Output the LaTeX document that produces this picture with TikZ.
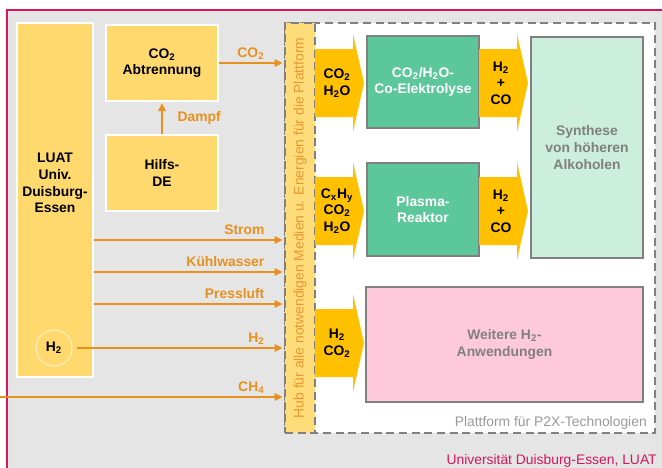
\documentclass[tikz,border=0pt]{standalone}
\usepackage{fontspec}
\setmainfont{Liberation Sans}
\usepackage{tikz}
\usetikzlibrary{arrows.meta, positioning, calc}
\definecolor{uderot}{HTML}{D2175C}
\definecolor{framegray}{HTML}{E5E5E5}
\definecolor{lightyellow}{HTML}{FFD96E}
\definecolor{hubyellow}{HTML}{FFDC7A}
\definecolor{deepyellow}{HTML}{FFC000}
\definecolor{floworange}{HTML}{E8901C}
\definecolor{hubtext}{HTML}{E99830}
\definecolor{reactgreen}{HTML}{5CC79B}
\definecolor{mintsoft}{HTML}{CCEEDD}
\definecolor{rosesoft}{HTML}{FFC9DC}
\definecolor{bordergray}{HTML}{808080}
\definecolor{notegray}{HTML}{999999}
\tikzset{
  bf/.style={font=\bfseries\fontsize{10.4}{12.5}\selectfont},
  rg/.style={font=\fontsize{10.4}{12.5}\selectfont},
  site/.style={bf, fill=lightyellow, draw=white, line width=1.2pt, align=center, inner sep=0pt},
  unit/.style={bf, fill=#1, draw=bordergray, line width=1.5pt, align=center, inner sep=0pt},
  unit/.default=reactgreen,
  flow/.style={-{Triangle[length=6pt, width=5.5pt]}, line width=1.5pt, color=floworange, shorten >=1pt},
  flowlbl/.style={bf, text=floworange, anchor=base east, inner sep=0pt, pos=1, xshift=-14pt, yshift=4.5pt},
  platfdash/.style={draw=bordergray, line width=1.5pt, dash pattern=on 6pt off 3.5pt, inner sep=0pt},
}
\begin{document}
\begin{tikzpicture}[x=0.75pt, y=-0.75pt]
  \useasboundingbox (0,0) rectangle (662,468);
  \clip (0,0) rectangle (662,468);
  % frame
  \draw[uderot, line width=1.5pt, fill=framegray] (7,10) rectangle (690,500);
  \node[rg, text=uderot, anchor=base east, inner sep=0pt] (udelbl) at (657,464) {Universität Duisburg-Essen, LUAT};
  % platform
  \node[platfdash, fill=white, minimum width=277.5pt, minimum height=307.5pt] (platf) at (470,228) {};
  \node[rg, text=notegray, anchor=base east, inner sep=0pt] (platflbl) at (647,426) {Plattform für P2X-Technologien};
  \node[platfdash, fill=hubyellow, minimum width=22.5pt, minimum height=307.5pt] (hub) at (300,228) {};
  \node[rg, text=hubtext, rotate=90, inner sep=0pt] (hublbl) at (hub.center) {Hub für alle notwendigen Medien u. Energien für die Plattform};
  % site
  \node[site, minimum width=57pt, minimum height=265.5pt] (luat) at (55,200) {};
  \node[bf, align=center] (luatlbl) at ([yshift=12.75pt]luat.center) {LUAT\\Univ.\\Duisburg-\\Essen};
  \node[bf, circle, fill=lightyellow, draw=white!60!lightyellow, line width=0.8pt, minimum size=27pt, inner sep=0pt] (luath) at (54,348) {H\textsubscript{2}};
  \node[site, minimum width=84pt, minimum height=57pt] (abtr) at (162,63) {CO\textsubscript{2}\\Abtrennung};
  \node[site, minimum width=84pt, minimum height=57pt] (hilfs) at (162,173) {Hilfs-\\DE};
  % units
  \node[unit, text=white, minimum width=84pt, minimum height=69pt] (elek) at (423,82) {CO\textsubscript{2}/H\textsubscript{2}O-\\Co-Elektrolyse};
  \node[unit, text=white, minimum width=84pt, minimum height=69.75pt] (plasma) at (423,209.5) {Plasma-\\Reaktor};
  \node[unit=mintsoft, text=bordergray, minimum width=84pt, minimum height=165.75pt] (synth) at (587,147.5) {Synthese\\von höheren\\Alkoholen};
  \node[unit=rosesoft, text=bordergray, minimum width=207.75pt, minimum height=86.25pt] (weitere) at (504.5,344.5) {Weitere H\textsubscript{2}-\\Anwendungen};
  % block arrows
  \foreach \nm/\xo/\ym/\t in {inel/315/83/{CO\textsubscript{2}\\H\textsubscript{2}O}, outel/479/83/{H\textsubscript{2}\\+\\CO},
      inpl/315/211/{C\textsubscript{x}H\textsubscript{y}\\CO\textsubscript{2}\\H\textsubscript{2}O}, outpl/479/211/{H\textsubscript{2}\\+\\CO},
      inwe/315/343/{H\textsubscript{2}\\CO\textsubscript{2}}}
    { \fill[deepyellow] (\xo,\ym-34) -- ++(38,0) -- ++(0,-15) -- (\xo+49,\ym) -- (\xo+38,\ym+49) -- ++(0,-15) -- (\xo,\ym+34) -- cycle;
      \node[bf, align=center, inner sep=0pt] (\nm) at (\xo+22,\ym) {\t}; }
  % media
  \draw[flow] (abtr.east) -- (abtr.east -| hub.west) node[flowlbl] {CO\textsubscript{2}};
  \draw[flow] (hilfs.north) -- (abtr.south) node[bf, text=floworange, midway, anchor=west, inner sep=0pt, xshift=11pt] {Dampf};
  \foreach \yy/\t in {240/Strom, 272/Kühlwasser, 304/Pressluft}
    { \coordinate (lv\yy) at (0,\yy);
      \draw[flow] (luat.east |- lv\yy) -- (hub.west |- lv\yy) node[flowlbl] {\t}; }
  \draw[flow] ([xshift=3pt]luath.east) -- (luath.east -| hub.west) node[flowlbl] {H\textsubscript{2}};
  \coordinate (chsrc) at (0,397);
  \draw[flow] (chsrc) -- (chsrc -| hub.west) node[flowlbl] {CH\textsubscript{4}};
\end{tikzpicture}
\end{document}
